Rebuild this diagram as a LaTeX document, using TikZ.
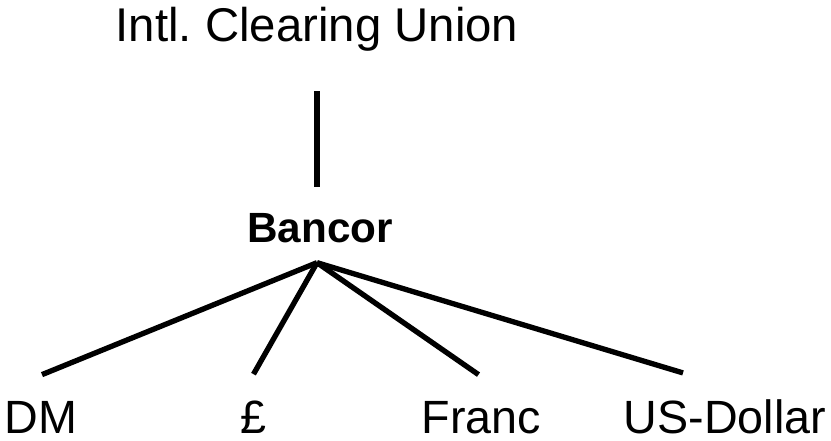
\documentclass[tikz,border=0pt]{standalone}
\usepackage{fontspec}
\setmainfont{Liberation Sans}
\usetikzlibrary{calc}
\tikzset{
  lbl/.style={anchor=base, inner sep=0pt, font=\fontsize{35}{40}\selectfont},
  toplbl/.style={lbl, font=\fontsize{35.5}{40}\selectfont},
  hublbl/.style={lbl, font=\fontsize{31.7}{36}\selectfont\bfseries},
  link/.style={line width=4pt, draw=black}
}
\begin{document}
\begin{tikzpicture}[x=0.75pt,y=-0.75pt]
  \path[fill=white, use as bounding box] (0,0) rectangle (831,441);
  \node[toplbl] (icu) at (317,42) {Intl.\ Clearing Union};
  \node[hublbl] (bancor) at (320,243) {Bancor};
  \node[lbl] (dm) at (41,433) {DM};
  \node[lbl] (pound) at (253.5,433) {£};
  \node[lbl] (franc) at (481.5,433) {Franc};
  \node[lbl] (usd) at (725,433) {US-Dollar};
  \coordinate (hub) at ($(bancor.south)+(-3,19)$);
  \draw[link] ($(icu.south)+(0,39)$) -- ($(bancor.north)+(-3,-27)$);
  \foreach \n/\dx in {dm/1,pound/0,franc/-3,usd/-42}{\draw[link] (hub) -- ($(\n.north)+(\dx,-26)$);}
\end{tikzpicture}
\end{document}
